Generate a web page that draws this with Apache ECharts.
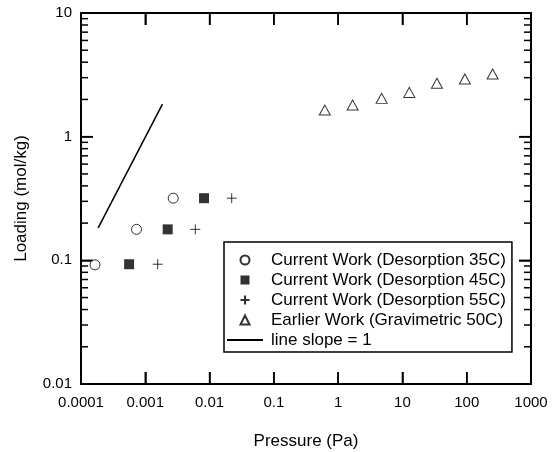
<!DOCTYPE html>
<html>
<head>
<meta charset="utf-8">
<script src="https://cdn.jsdelivr.net/npm/echarts@6/dist/echarts.min.js"></script>
<style>
html, body { margin: 0; padding: 0; background: #fff; }
#chart { width: 552px; height: 452px; }
</style>
</head>
<body>
<div id="chart"></div>
<script>
// axis ticks
const xTicks = [0.0001, 0.001, 0.01, 0.1, 1, 10, 100, 1000];
const xTickLabels = ['0.0001', '0.001', '0.01', '0.1', '1', '10', '100', '1000'];
const yTicks = [0.01, 0.1, 1, 10];
const yTickLabels = ['0.01', '0.1', '1', '10'];
const yMinorTicks = [0.02, 0.03, 0.04, 0.05, 0.06, 0.07, 0.08, 0.09,
                     0.2, 0.3, 0.4, 0.5, 0.6, 0.7, 0.8, 0.9,
                     2, 3, 4, 5, 6, 7, 8, 9];

// series: [pressure Pa, loading mol/kg]
const seriesNames = [
    'Current Work (Desorption 35C)',
    'Current Work (Desorption 45C)',
    'Current Work (Desorption 55C)',
    'Earlier Work (Gravimetric 50C)',
    'line slope = 1'
];
const desorption35 = [[1.65e-4, 0.092], [7.3e-4, 0.178], [2.72e-3, 0.318]];
const desorption45 = [[5.6e-4, 0.093], [2.23e-3, 0.178], [8.2e-3, 0.318]];
const desorption55 = [[1.56e-3, 0.093], [6.0e-3, 0.178], [0.0221, 0.318]];
const gravimetric50 = [[0.62, 1.64], [1.68, 1.80], [4.75, 2.04], [12.8, 2.28],
                       [34.4, 2.70], [93.7, 2.93], [253, 3.21]];
const slopeLine = [[1.85e-4, 0.183], [1.85e-3, 1.83]];

const font = 'Liberation Sans, Arial, sans-serif';
const black = '#000';

function logLabel(ticks, labels) {
    return (v) => {
        const k = Math.round(Math.log10(v) - Math.log10(ticks[0]));
        return labels[k] !== undefined ? labels[k] : '';
    };
}

function xAxisDef(pos, withLabels) {
    return {
        type: 'log', logBase: 10, min: xTicks[0], max: xTicks[xTicks.length - 1],
        splitNumber: xTicks.length - 1,
        position: pos,
        axisLine: { show: true, onZero: false, lineStyle: { color: black, width: 2 } },
        axisTick: { show: true, inside: true, length: 12,
                    lineStyle: { color: black, width: 1.5 } },
        axisLabel: { show: withLabels, customValues: xTicks, formatter: logLabel(xTicks, xTickLabels),
                     margin: 11, color: black, fontSize: 15, fontFamily: font },
        splitLine: { show: false },
        name: withLabels ? 'Pressure (Pa)' : '',
        nameLocation: 'middle', nameGap: 49,
        nameTextStyle: { color: black, fontSize: 17, fontFamily: font }
    };
}

function yAxisDef(pos, withLabels) {
    return {
        type: 'log', logBase: 10, min: yTicks[0], max: yTicks[yTicks.length - 1],
        splitNumber: yTicks.length - 1,
        position: pos,
        axisLine: { show: true, onZero: false, lineStyle: { color: black, width: 2 } },
        axisTick: { show: true, inside: true, length: 12,
                    lineStyle: { color: black, width: 1.5 } },
        axisLabel: { show: withLabels, customValues: yTicks, formatter: logLabel(yTicks, yTickLabels),
                     margin: 9, color: black, fontSize: 15, fontFamily: font },
        splitLine: { show: false },
        name: withLabels ? 'Loading (mol/kg)' : '',
        nameLocation: 'middle', nameGap: 51,
        nameTextStyle: { color: black, fontSize: 17, fontFamily: font }
    };
}

const hollow = { color: '#fff', borderColor: black, borderWidth: 1 };

const option = {
    animation: false,
    backgroundColor: '#fff',
    grid: { left: 81, right: 21, top: 13, bottom: 68, outerBoundsMode: 'none' },
    xAxis: [xAxisDef('bottom', true), xAxisDef('top', false)],
    yAxis: [yAxisDef('left', true), yAxisDef('right', false)],
    legend: {
        orient: 'vertical', left: 224, top: 242,
        padding: [8, 6, 2, 2], itemGap: 0,
        itemWidth: 36, itemHeight: 9,
        symbolKeepAspect: true,
        backgroundColor: '#fff', borderColor: black, borderWidth: 1.5, borderRadius: 0,
        textStyle: { color: black, fontSize: 17, fontFamily: font, lineHeight: 20, padding: [0, 0, 0, 3] },
        data: [
            { name: seriesNames[0], icon: 'circle' },
            { name: seriesNames[1], icon: 'path://M0,0L10,0L10,10L0,10Z' },
            { name: seriesNames[2], icon: 'path://M0,5L10,5M5,0L5,10' },
            { name: seriesNames[3], icon: 'path://M5,0L10,10L0,10Z' },
            { name: seriesNames[4] }
        ]
    },
    series: [
        { name: seriesNames[0], type: 'scatter', data: desorption35,
          symbol: 'circle', symbolSize: 10, itemStyle: hollow },
        { name: seriesNames[1], type: 'scatter', data: desorption45,
          symbol: 'rect', symbolSize: 10, itemStyle: { color: black } },
        { name: seriesNames[2], type: 'scatter', data: desorption55,
          symbol: 'path://M0,5L10,5M5,0L5,10', symbolSize: 10,
          itemStyle: { color: 'none', borderColor: black, borderWidth: 1 } },
        { name: seriesNames[3], type: 'scatter', data: gravimetric50,
          symbol: 'triangle', symbolSize: [11, 10], itemStyle: hollow },
        { name: seriesNames[4], type: 'line', data: slopeLine,
          symbol: 'none', lineStyle: { color: black, width: 1.5 },
          itemStyle: { color: 'transparent', borderWidth: 0 } }
    ]
};

const chart = echarts.init(document.getElementById('chart'));
chart.setOption(option);

// inward ticks placed through the axis scales: majors on all four sides, 2..9 minors on the y sides
const xLeft = chart.convertToPixel({ xAxisIndex: 0 }, xTicks[0]);
const xRight = chart.convertToPixel({ xAxisIndex: 0 }, xTicks[xTicks.length - 1]);
const yBottom = chart.convertToPixel({ yAxisIndex: 0 }, yTicks[0]);
const yTop = chart.convertToPixel({ yAxisIndex: 0 }, yTicks[yTicks.length - 1]);
const tickMarks = [];
yMinorTicks.forEach((v) => {
    const y = chart.convertToPixel({ yAxisIndex: 0 }, v);
    tickMarks.push({ type: 'line', shape: { x1: xLeft, y1: y, x2: xLeft + 7, y2: y },
                     style: { stroke: black, lineWidth: 1.5 }, silent: true });
    tickMarks.push({ type: 'line', shape: { x1: xRight - 7, y1: y, x2: xRight, y2: y },
                     style: { stroke: black, lineWidth: 1.5 }, silent: true });
});
yTicks.slice(1, -1).forEach((v) => {
    const y = chart.convertToPixel({ yAxisIndex: 0 }, v);
    tickMarks.push({ type: 'line', shape: { x1: xLeft, y1: y, x2: xLeft + 12, y2: y },
                     style: { stroke: black, lineWidth: 1.5 }, silent: true });
    tickMarks.push({ type: 'line', shape: { x1: xRight - 12, y1: y, x2: xRight, y2: y },
                     style: { stroke: black, lineWidth: 1.5 }, silent: true });
});
xTicks.slice(1, -1).forEach((v) => {
    const x = chart.convertToPixel({ xAxisIndex: 0 }, v);
    tickMarks.push({ type: 'line', shape: { x1: x, y1: yBottom, x2: x, y2: yBottom - 12 },
                     style: { stroke: black, lineWidth: 1.5 }, silent: true });
    tickMarks.push({ type: 'line', shape: { x1: x, y1: yTop, x2: x, y2: yTop + 12 },
                     style: { stroke: black, lineWidth: 1.5 }, silent: true });
});
chart.setOption({ graphic: tickMarks });
</script>
</body>
</html>
